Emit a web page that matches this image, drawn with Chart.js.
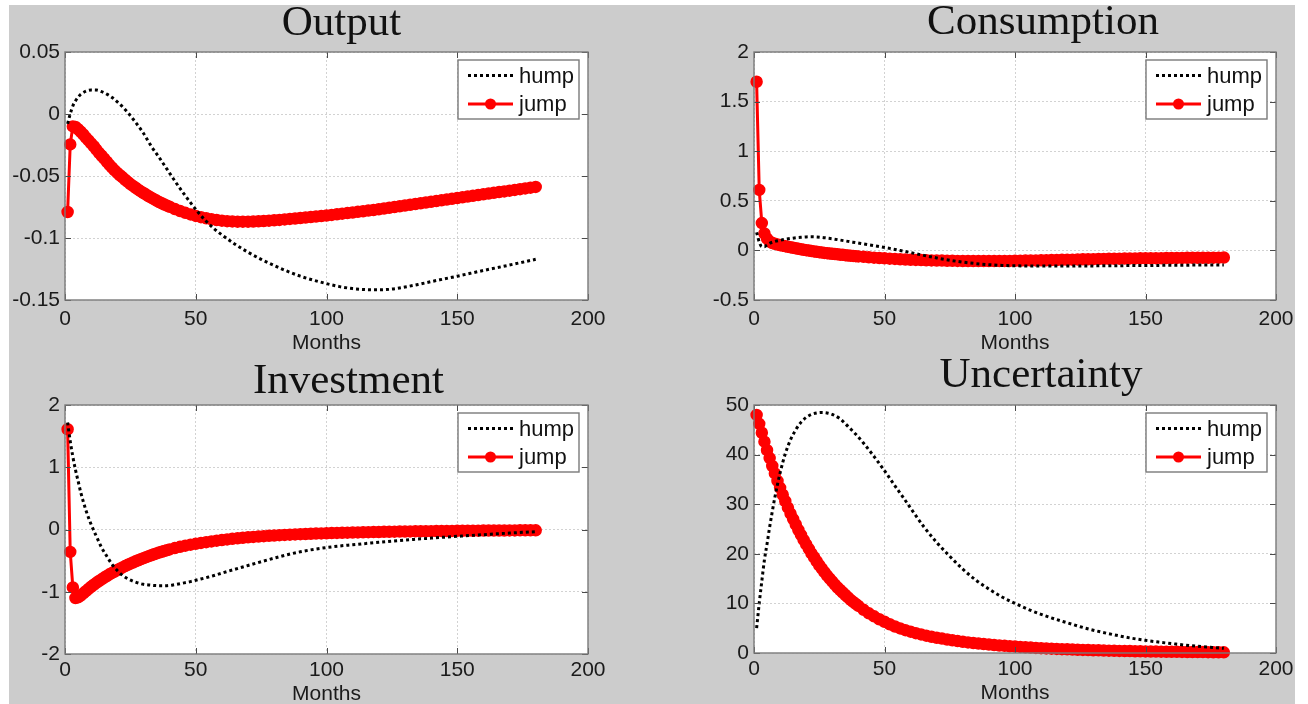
<!DOCTYPE html>
<html>
<head>
<meta charset="utf-8">
<script src="https://cdn.jsdelivr.net/npm/chart.js@4.4.0/dist/chart.umd.min.js"></script>
<style>
  body { margin: 0; background: #fff; width: 1308px; height: 704px; overflow: hidden; position: relative; }
  #fig { position: absolute; left: 9px; top: 5px; width: 1286px; height: 699px; background: #cccccc; }
  canvas { position: absolute; }
</style>
</head>
<body>
<div id="fig"></div>
<canvas id="output" width="609" height="351" style="left:9px;top:5px"></canvas>
<canvas id="consumption" width="608" height="351" style="left:698px;top:5px"></canvas>
<canvas id="investment" width="609" height="349" style="left:9px;top:358px"></canvas>
<canvas id="uncertainty" width="608" height="348" style="left:698px;top:358px"></canvas>
<script>
// months
var monthTicks = [0, 50, 100, 150, 200];
var humpMonths = [1, 2, 3, 4, 5, 6, 8, 10, 12, 14, 16, 18, 20, 22, 24, 26, 28, 30, 33, 36, 39, 42, 45, 48, 51, 54, 57, 60,
  65, 70, 75, 80, 85, 90, 95, 100, 105, 110, 115, 120, 125, 130, 135, 140, 145, 150, 155, 160, 165, 170, 175, 180];
var jumpMonths = [1, 2, 3, 4, 5, 6, 7, 8, 9, 10, 11, 12, 13, 14, 15, 16, 17, 18, 19, 20, 21, 22, 23, 24, 25, 26, 27, 28, 29, 30,
  31, 32, 33, 34, 35, 36, 37, 38, 39, 40, 42, 44, 46, 48, 50, 52, 54, 56, 58, 60, 62, 64, 66, 68, 70, 72, 74, 76, 78, 80,
  82, 84, 86, 88, 90, 92, 94, 96, 98, 100, 102, 104, 106, 108, 110, 112, 114, 116, 118, 120, 122, 124, 126, 128, 130,
  132, 134, 136, 138, 140, 142, 144, 146, 148, 150, 152, 154, 156, 158, 160, 162, 164, 166, 168, 170, 172, 174, 176, 178, 180];

// Output
var outputTicks = [-0.15, -0.1, -0.05, 0, 0.05];
var outputHump = [-0.008, 0.000, 0.0065, 0.0105, 0.0135, 0.0158, 0.0184, 0.0194, 0.0193, 0.0180, 0.0160, 0.0133, 0.0098, 0.0058,
  0.0012, -0.0040, -0.0095, -0.0155, -0.0260, -0.0350, -0.0445, -0.0540, -0.0630, -0.0715, -0.0795, -0.0865, -0.0925, -0.0975,
  -0.1050, -0.1115, -0.1172, -0.1222, -0.1268, -0.1308, -0.1340, -0.1368, -0.1392, -0.1408, -0.1416, -0.1418, -0.1412, -0.1395,
  -0.1375, -0.1352, -0.1330, -0.1308, -0.1285, -0.1262, -0.1240, -0.1218, -0.1195, -0.1172];
var outputJump = [-0.0790, -0.0245, -0.0100, -0.0105, -0.0123, -0.0143, -0.0165, -0.0190, -0.0213, -0.0237, -0.0260, -0.0287,
  -0.0313, -0.0337, -0.0360, -0.0385, -0.0410, -0.0433, -0.0455, -0.0475, -0.0494, -0.0511, -0.0530, -0.0548, -0.0565, -0.0580,
  -0.0595, -0.0610, -0.0624, -0.0637, -0.0650, -0.0663, -0.0675, -0.0687, -0.0698, -0.0710, -0.0720, -0.0730, -0.0739, -0.0748,
  -0.0766, -0.0782, -0.0797, -0.0810, -0.0822, -0.0832, -0.0841, -0.0849, -0.0855, -0.0860, -0.0864, -0.0866, -0.0868, -0.0868,
  -0.0868, -0.0867, -0.0865, -0.0863, -0.0860, -0.0857, -0.0854, -0.0850, -0.0846, -0.0843, -0.0839, -0.0835, -0.0831, -0.0827,
  -0.0823, -0.0819, -0.0814, -0.0809, -0.0804, -0.0799, -0.0794, -0.0789, -0.0784, -0.0779, -0.0774, -0.0768, -0.0762, -0.0756,
  -0.0750, -0.0744, -0.0738, -0.0732, -0.0726, -0.0720, -0.0714, -0.0708, -0.0702, -0.0696, -0.0690, -0.0684, -0.0678, -0.0672,
  -0.0666, -0.0660, -0.0654, -0.0648, -0.0642, -0.0636, -0.0630, -0.0624, -0.0618, -0.0612, -0.0606, -0.0600, -0.0594, -0.0588];

// Consumption
var consumptionTicks = [-0.5, 0, 0.5, 1, 1.5, 2];
var consumptionHump = [0.182, 0.085, 0.038, 0.037, 0.055, 0.072, 0.090, 0.102, 0.112, 0.120, 0.127, 0.132, 0.136, 0.138,
  0.136, 0.131, 0.124, 0.117, 0.104, 0.091, 0.078, 0.065, 0.052, 0.039, 0.025, 0.010, -0.006, -0.022,
  -0.050, -0.076, -0.099, -0.118, -0.133, -0.144, -0.151, -0.155, -0.157, -0.158, -0.158, -0.157, -0.157, -0.156,
  -0.155, -0.154, -0.153, -0.152, -0.151, -0.150, -0.149, -0.148, -0.147, -0.146];
var consumptionJump = [1.70, 0.61, 0.275, 0.170, 0.118, 0.090, 0.075, 0.066, 0.059, 0.053, 0.048, 0.043, 0.037, 0.032,
  0.026, 0.021, 0.016, 0.011, 0.006, 0.002, -0.002, -0.006, -0.010, -0.014, -0.018, -0.021, -0.025, -0.028, -0.031, -0.034,
  -0.037, -0.040, -0.043, -0.045, -0.048, -0.051, -0.053, -0.056, -0.058, -0.061,
  -0.065, -0.069, -0.073, -0.077, -0.080, -0.083, -0.086, -0.089, -0.092, -0.094, -0.096, -0.098, -0.100, -0.101, -0.102,
  -0.103, -0.104, -0.105, -0.106, -0.107, -0.107, -0.108, -0.108, -0.108, -0.108, -0.108, -0.107, -0.107, -0.106, -0.105,
  -0.104, -0.103, -0.102, -0.101, -0.100, -0.099, -0.098, -0.097, -0.095, -0.094, -0.093, -0.091, -0.090, -0.089, -0.088,
  -0.087, -0.086, -0.085, -0.084, -0.083, -0.082, -0.081, -0.081, -0.080, -0.079, -0.079, -0.078, -0.078, -0.077, -0.077,
  -0.076, -0.076, -0.075, -0.075, -0.075, -0.074, -0.074, -0.073, -0.073, -0.072];

// Investment
var investmentTicks = [-2, -1, 0, 1, 2];
var investmentHump = [1.72, 1.42, 1.17, 0.96, 0.78, 0.60, 0.31, 0.08, -0.11, -0.29, -0.43, -0.56, -0.66, -0.735,
  -0.79, -0.83, -0.86, -0.88, -0.895, -0.903, -0.902, -0.885, -0.862, -0.837, -0.805, -0.773, -0.740, -0.700,
  -0.638, -0.578, -0.518, -0.460, -0.405, -0.358, -0.320, -0.290, -0.265, -0.245, -0.225, -0.205, -0.187, -0.170,
  -0.154, -0.138, -0.124, -0.110, -0.096, -0.083, -0.070, -0.058, -0.046, -0.035];
var investmentJump = [1.61, -0.36, -0.93, -1.10, -1.09, -1.06, -1.025, -0.99, -0.955, -0.92, -0.888, -0.857, -0.828, -0.80,
  -0.773, -0.747, -0.720, -0.697, -0.674, -0.652, -0.630, -0.609, -0.588, -0.568, -0.549, -0.530, -0.512, -0.494, -0.477, -0.460,
  -0.444, -0.428, -0.413, -0.398, -0.384, -0.370, -0.357, -0.344, -0.332, -0.320,
  -0.298, -0.278, -0.260, -0.244, -0.230, -0.216, -0.203, -0.191, -0.180, -0.169, -0.159, -0.150, -0.141, -0.133, -0.126,
  -0.119, -0.113, -0.107, -0.101, -0.096, -0.091, -0.087, -0.083, -0.079, -0.075, -0.072, -0.069, -0.066, -0.063, -0.060,
  -0.058, -0.055, -0.053, -0.051, -0.049, -0.047, -0.045, -0.043, -0.042, -0.040, -0.038, -0.037, -0.035, -0.034, -0.033,
  -0.031, -0.030, -0.029, -0.028, -0.027, -0.026, -0.025, -0.024, -0.023, -0.022, -0.021, -0.021, -0.020, -0.019, -0.018,
  -0.018, -0.017, -0.016, -0.016, -0.015, -0.015, -0.014, -0.014, -0.013, -0.013];

// Uncertainty
var uncertaintyTicks = [0, 10, 20, 30, 40, 50];
var uncertaintyHump = [5.0, 10.0, 14.5, 18.8, 22.0, 25.4, 31.4, 36.3, 40.2, 43.0, 45.0, 46.5, 47.5, 48.1,
  48.4, 48.5, 48.4, 48.1, 47.2, 45.7, 44.1, 42.3, 40.3, 38.2, 36.0, 33.7, 31.5, 29.2,
  25.5, 22.3, 19.5, 16.9, 14.7, 12.9, 11.3, 10.0, 8.8, 7.8, 6.9, 6.1, 5.3, 4.6,
  4.0, 3.45, 2.95, 2.55, 2.2, 1.9, 1.6, 1.35, 1.15, 0.95];
var uncertaintyJump = [48.0, 46.2, 44.4, 42.6, 40.9, 39.3, 37.7, 36.2, 34.7, 33.3, 31.9, 30.6, 29.3, 28.1, 27.0, 25.9, 24.8,
  23.8, 22.8, 21.9, 21.0, 20.1, 19.3, 18.5, 17.7, 17.0, 16.3, 15.6, 15.0, 14.4, 13.8, 13.2, 12.7, 12.2, 11.7, 11.2, 10.7,
  10.3, 9.9, 9.5,
  8.7, 8.0, 7.4, 6.8, 6.3, 5.8, 5.35, 4.95, 4.6, 4.3, 4.0, 3.75, 3.5, 3.28, 3.08, 2.9, 2.72, 2.56, 2.41, 2.27,
  2.14, 2.02, 1.9, 1.8, 1.7, 1.6, 1.52, 1.44, 1.36, 1.29, 1.22, 1.15, 1.09, 1.03, 0.97, 0.92, 0.87, 0.82, 0.78, 0.74,
  0.7, 0.66, 0.62, 0.59, 0.56, 0.53, 0.5, 0.47, 0.45, 0.42, 0.4, 0.38, 0.36, 0.34, 0.32, 0.3, 0.29, 0.27, 0.26, 0.24,
  0.23, 0.22, 0.21, 0.2, 0.19, 0.18, 0.17, 0.16, 0.15, 0.14];

Chart.defaults.font.family = '"Liberation Sans", Arial, sans-serif';
Chart.defaults.color = '#1a1a1a';

// white axes box, inward ticks, title and legend, drawn MATLAB style
var matlabBox = {
  id: 'matlabBox',
  beforeDraw: function(chart) {
    var a = chart.chartArea, ctx = chart.ctx;
    ctx.save();
    ctx.fillStyle = '#fff';
    ctx.fillRect(a.left, a.top, a.width, a.height);
    ctx.restore();
  },
  afterDraw: function(chart, args, opts) {
    var a = chart.chartArea, ctx = chart.ctx;
    var xs = chart.scales.x, ys = chart.scales.y;
    ctx.save();

    ctx.strokeStyle = '#4a4a4a';
    ctx.lineWidth = 1;
    ctx.beginPath();
    xs.ticks.forEach(function(t) {
      var p = Math.round(xs.getPixelForValue(t.value)) + 0.5;
      ctx.moveTo(p, a.bottom); ctx.lineTo(p, a.bottom - 6);
      ctx.moveTo(p, a.top); ctx.lineTo(p, a.top + 6);
    });
    ys.ticks.forEach(function(t) {
      var p = Math.round(ys.getPixelForValue(t.value)) + 0.5;
      ctx.moveTo(a.left, p); ctx.lineTo(a.left + 6, p);
      ctx.moveTo(a.right, p); ctx.lineTo(a.right - 6, p);
    });
    ctx.stroke();

    ctx.strokeStyle = '#7a7a7a';
    ctx.lineWidth = 1.4;
    ctx.strokeRect(a.left, a.top, a.width, a.height);

    // title
    ctx.fillStyle = '#111';
    ctx.font = '43px "Liberation Serif", serif';
    ctx.textAlign = 'center';
    ctx.textBaseline = 'alphabetic';
    ctx.fillText(opts.title, (a.left + a.right) / 2 + opts.dx, a.top + opts.dy);

    // legend
    var w = 121, h = 59;
    var lx = a.right - 9 - w, ly = a.top + 8;
    ctx.fillStyle = '#fff';
    ctx.fillRect(lx, ly, w, h);
    ctx.strokeStyle = '#7a7a7a';
    ctx.lineWidth = 1.4;
    ctx.strokeRect(lx, ly, w, h);
    var rows = [ly + 15.5, ly + 44];
    var ds = chart.data.datasets;
    ctx.font = '22px "Liberation Sans", Arial, sans-serif';
    ctx.textAlign = 'left';
    ctx.textBaseline = 'middle';
    ds.forEach(function(d, i) {
      var y = rows[i];
      ctx.save();
      ctx.strokeStyle = d.borderColor;
      ctx.lineWidth = d.borderWidth;
      ctx.setLineDash(d.borderDash || []);
      ctx.beginPath();
      ctx.moveTo(lx + 10, y); ctx.lineTo(lx + 55, y);
      ctx.stroke();
      if (d.pointRadius) {
        ctx.fillStyle = d.pointBackgroundColor;
        ctx.beginPath();
        ctx.arc(lx + 32.5, y, d.pointRadius, 0, Math.PI * 2);
        ctx.fill();
      }
      ctx.restore();
      ctx.fillStyle = '#111';
      ctx.fillText(d.label, lx + 61, y + 1);
    });
    ctx.restore();
  }
};

function pts(xs, ys) {
  return xs.map(function(x, i) { return { x: x, y: ys[i] }; });
}

function fmt(v) { return String(+Number(v).toFixed(2)); }

function panel(id, title, dx, dy, yTicks, hump, jump, xPad, xAxisH) {
  new Chart(document.getElementById(id), {
    type: 'line',
    data: {
      datasets: [
        {
          label: 'hump',
          data: pts(humpMonths, hump),
          borderColor: '#000',
          borderWidth: 3,
          borderDash: [3, 3],
          pointRadius: 0,
          cubicInterpolationMode: 'monotone',
          clip: false
        },
        {
          label: 'jump',
          data: pts(jumpMonths, jump),
          borderColor: '#ff0000',
          borderWidth: 3,
          pointRadius: 5.5,
          pointBackgroundColor: '#ff0000',
          pointBorderColor: '#ff0000',
          pointBorderWidth: 1.5,
          tension: 0,
          clip: false
        }
      ]
    },
    options: {
      responsive: false,
      animation: false,
      devicePixelRatio: 1,
      layout: { padding: { left: 0, top: 47, right: 30, bottom: 0 } },
      plugins: {
        legend: { display: false },
        tooltip: { enabled: false },
        matlabBox: { title: title, dx: dx, dy: dy }
      },
      scales: {
        x: {
          type: 'linear',
          min: monthTicks[0],
          max: monthTicks[monthTicks.length - 1],
          afterBuildTicks: function(s) { s.ticks = monthTicks.map(function(v) { return { value: v }; }); },
          afterFit: function(s) { s.height = xAxisH; },
          ticks: { padding: xPad, font: { size: 21 }, color: '#1a1a1a', maxRotation: 0, autoSkip: false },
          grid: { color: '#d2d2d2', lineWidth: 1, drawTicks: false },
          border: { display: false, dash: [2, 2] },
          title: { display: true, text: 'Months', font: { size: 21 }, color: '#1a1a1a', padding: 0 }
        },
        y: {
          type: 'linear',
          min: yTicks[0],
          max: yTicks[yTicks.length - 1],
          afterBuildTicks: function(s) { s.ticks = yTicks.map(function(v) { return { value: v }; }); },
          afterFit: function(s) { s.width = 56; },
          ticks: { padding: 5, font: { size: 21 }, color: '#1a1a1a', autoSkip: false, callback: fmt },
          grid: { color: '#d2d2d2', lineWidth: 1, drawTicks: false },
          border: { display: false, dash: [2, 2] }
        }
      }
    },
    plugins: [matlabBox]
  });
}

panel('output', 'Output', 15, -17, outputTicks, outputHump, outputJump, 7, 56);
panel('consumption', 'Consumption', 28, -18.5, consumptionTicks, consumptionHump, consumptionJump, 7, 56);
panel('investment', 'Investment', 22, -12.5, investmentTicks, investmentHump, investmentJump, 4, 53);
panel('uncertainty', 'Uncertainty', 26, -18, uncertaintyTicks, uncertaintyHump, uncertaintyJump, 4, 53);
</script>
</body>
</html>
